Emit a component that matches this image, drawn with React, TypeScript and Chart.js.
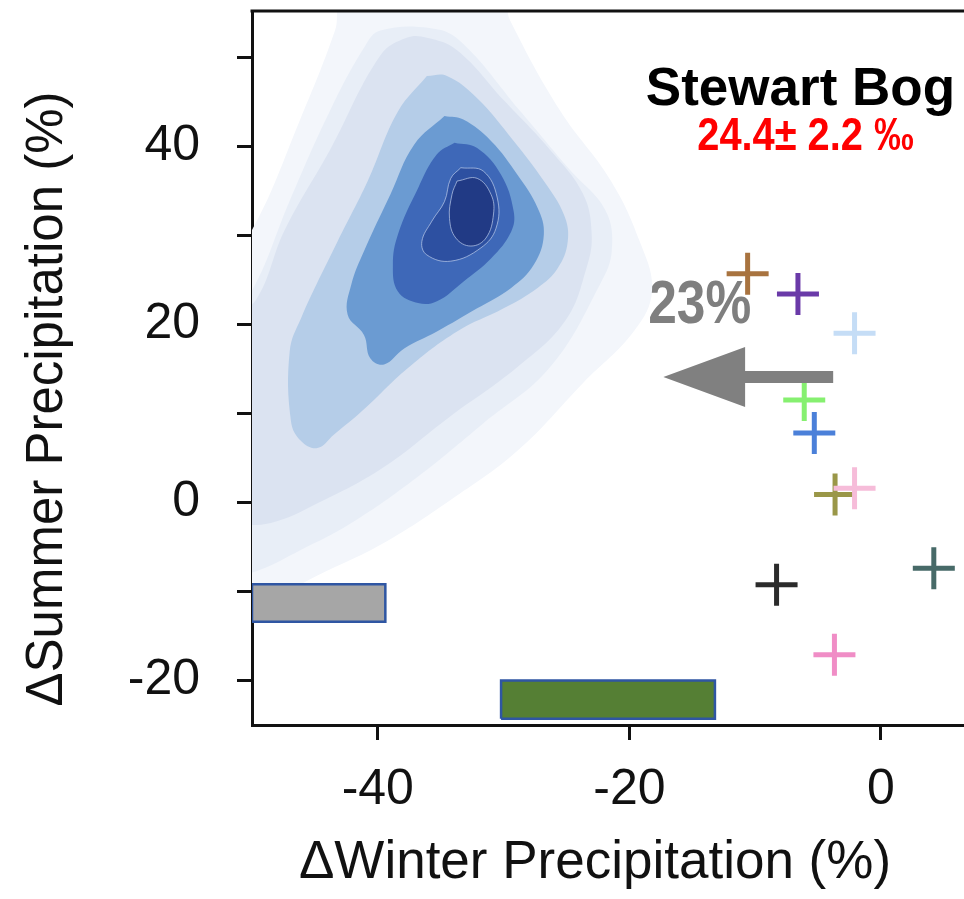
import React, { useEffect, useRef } from "react";
import { Chart, registerables } from "chart.js";

Chart.register(...registerables);

// ---- axes ----
const X_MIN = -50;
const X_MAX = 6.6;
const Y_MIN = -25;
const Y_MAX = 55.2;
const X_STEP = 20;
const Y_STEP = 10;
const Y_LABEL_EVERY = 20;
const X_TITLE = "\u0394Winter Precipitation (%)";
const Y_TITLE = "\u0394Summer Precipitation (%)";

// ---- model crosses ----
const crossX = [-10.6, -6.6, -2.1, -6.1, -5.3, -3.65, -2.1, 4.2, -8.3, -3.7];
const crossY = [25.7, 23.4, 19.0, 11.5, 7.8, 0.9, 1.6, -7.4, -9.25, -17.1];
const crossColors = [
  "#a8733f", "#6a3aa8", "#c5ddf6", "#86f070", "#4b80d9",
  "#9a9748", "#f6bcd9", "#476a68", "#2b2b2b", "#f08dc6",
];

// ---- boxes (x range, y range) ----
const grayBoxX = [-50, -39.4];
const grayBoxY = [-13.4, -9.2];
const greenBoxX = [-30.2, -13.2];
const greenBoxY = [-24.3, -20.0];

// ---- arrow (tail, head base, tip at a fixed y) ----
const arrowX = [-3.8, -10.8, -17.3];
const arrowY = 14.1;

// ---- annotations ----
const siteName = "Stewart Bog";
const siteValue = "24.4\u00b1 2.2 \u2030";
const changeLabel = "23%";
const siteNamePos = [-6.4, 44.6];
const siteValuePos = [-6.0, 39.6];
const changeLabelPos = [-18.5, 20.1];

// ---- density contours, outer to inner ----
const c1X = [-52, -48.6, -44.8, -39.6, -34.3, -28.9, -23.7, -19.6, -18.2, -19.2, -21.5, -25.5, -29.5, -30.3, -42.6, -43.4, -46.2, -50.0, -52];
const c1Y = [-13, -11.0, -8.2, -4.6, 0.2, 5.8, 13.4, 19.3, 23.8, 29.4, 36.2, 44.0, 54.2, 57.5, 57.5, 53.0, 42.9, 30.6, 28];
const c2X = [-52, -49.4, -46.2, -42.2, -36.9, -31.6, -26.3, -22.3, -21.4, -21.9, -24.7, -28.7, -33.5, -35.9, -39.8, -41.0, -43.8, -47.0, -50.0, -52];
const c2Y = [-8.5, -7.6, -5.4, -2.4, 2.8, 8.9, 15.2, 24.6, 28.3, 32.8, 37.3, 44.0, 51.9, 53.3, 53.0, 51.3, 44.0, 33.9, 23.8, 21];
const c3X = [-52, -48.5, -44.8, -39.6, -34.3, -28.9, -25.1, -23.4, -23.0, -23.7, -26.3, -30.0, -33.7, -36.1, -37.7, -39.8, -43.8, -47.4, -49.7, -52];
const c3Y = [-2.5, -2.3, -0.1, 3.9, 9.6, 15.2, 20.4, 26.4, 30.2, 34.7, 39.6, 45.2, 50.8, 52.2, 52.2, 50.2, 39.6, 30.6, 22.7, 20.4];
const c4X = [-36.1, -34.5, -32.1, -29.2, -26.8, -25.2, -24.9, -25.7, -27.3, -30.0, -33.7, -37.6, -41.3, -43.5, -44.8, -46.1, -46.9, -47.0, -46.1, -43.2, -40.8, -38.4];
const c4Y = [47.9, 47.9, 45.4, 40.6, 36.1, 32.3, 29.3, 26.3, 24.1, 21.8, 19.2, 15.1, 10.2, 7.6, 6.1, 6.9, 9.1, 17.0, 20.7, 29.3, 36.1, 43.9];
const c5X = [-34.7, -33.2, -31.0, -28.9, -27.3, -26.8, -27.6, -29.4, -32.1, -35.3, -37.9, -39.5, -40.6, -41.1, -42.4, -42.1, -41.1, -39.0, -37.1];
const c5Y = [43.4, 43.0, 40.6, 36.8, 33.1, 30.1, 26.7, 24.1, 21.8, 19.2, 17.3, 15.5, 16.2, 18.8, 21.1, 24.5, 28.2, 34.6, 40.2];
const c6X = [-33.9, -32.1, -30.2, -29.2, -29.4, -31.0, -33.2, -35.3, -36.8, -38.4, -38.8, -38.4, -36.8, -35.3];
const c6Y = [40.4, 39.8, 36.8, 32.7, 30.4, 27.4, 24.8, 22.6, 22.4, 23.7, 26.7, 30.1, 35.3, 39.1];
const c7X = [-33.4, -31.6, -30.5, -30.6, -31.8, -34.2, -36.1, -36.5, -35.7, -34.7, -34.2];
const c7Y = [37.6, 37.2, 34.2, 30.8, 28.6, 27.1, 27.8, 29.3, 31.6, 33.8, 36.4];
const c8X = [-33.7, -32.1, -31.0, -30.8, -31.4, -32.6, -33.8, -34.3, -34.1];
const c8Y = [36.1, 36.4, 34.6, 32.4, 29.7, 28.8, 29.7, 31.9, 34.6];

const contourXs = [c1X, c2X, c3X, c4X, c5X, c6X, c7X, c8X];
const contourYs = [c1Y, c2Y, c3Y, c4Y, c5Y, c6Y, c7Y, c8Y];
const contourColors = ["#f3f6fb", "#e8eef7", "#dbe3f1", "#b5cde8", "#6b9bd2", "#3e68b8", "#2d50a1", "#213a85"];

const FONT = "'Liberation Sans', Arial, Helvetica, sans-serif";

function loop(xs: number[], ys: number[]) {
  const pts = xs.map((x, i) => ({ x, y: ys[i] }));
  pts.push({ x: xs[0], y: ys[0] });
  return pts;
}

function boxPts(bx: number[], by: number[]) {
  return loop([bx[0], bx[1], bx[1], bx[0]], [by[0], by[0], by[1], by[1]]);
}

const overlayPlugin = {
  id: "overlay",
  beforeDatasetsDraw(chart: any) {
    const { ctx, scales } = chart;
    const xs = scales.x;
    const ys = scales.y;
    ctx.save();
    ctx.fillStyle = "#000";
    ctx.font = `bold 53px ${FONT}`;
    ctx.textAlign = "center";
    ctx.textBaseline = "alphabetic";
    ctx.fillText(siteName, xs.getPixelForValue(siteNamePos[0]), ys.getPixelForValue(siteNamePos[1]));
    ctx.save();
    ctx.translate(xs.getPixelForValue(siteValuePos[0]), ys.getPixelForValue(siteValuePos[1]));
    ctx.scale(0.865, 1);
    ctx.fillStyle = "#ff0000";
    ctx.font = `bold 46px ${FONT}`;
    ctx.fillText(siteValue, 0, 0);
    ctx.restore();
    ctx.save();
    ctx.translate(xs.getPixelForValue(changeLabelPos[0]), ys.getPixelForValue(changeLabelPos[1]));
    ctx.scale(0.83, 1);
    ctx.fillStyle = "#7f7f7f";
    ctx.font = `bold 62px ${FONT}`;
    ctx.textAlign = "left";
    ctx.fillText(changeLabel, 0, 0);
    ctx.restore();
    ctx.restore();
  },
  afterDatasetsDraw(chart: any) {
    const { ctx, scales } = chart;
    const xs = scales.x;
    const ys = scales.y;
    const tail = xs.getPixelForValue(arrowX[0]);
    const base = xs.getPixelForValue(arrowX[1]);
    const tip = xs.getPixelForValue(arrowX[2]);
    const cy = ys.getPixelForValue(arrowY);
    const sh = 6;
    const hh = 30;
    ctx.save();
    ctx.fillStyle = "#808080";
    ctx.beginPath();
    ctx.moveTo(tail, cy - sh);
    ctx.lineTo(base, cy - sh);
    ctx.lineTo(base, cy - hh);
    ctx.lineTo(tip, cy);
    ctx.lineTo(base, cy + hh);
    ctx.lineTo(base, cy + sh);
    ctx.lineTo(tail, cy + sh);
    ctx.closePath();
    ctx.fill();
    ctx.restore();
  },
  afterDraw(chart: any) {
    const { ctx, chartArea } = chart;
    ctx.save();
    ctx.strokeStyle = "#111";
    ctx.lineWidth = 3;
    ctx.beginPath();
    ctx.moveTo(chartArea.left - 1.5, chartArea.top);
    ctx.lineTo(chartArea.right, chartArea.top);
    ctx.stroke();
    ctx.fillStyle = "#111";
    ctx.textAlign = "center";
    ctx.textBaseline = "alphabetic";
    ctx.font = `53px ${FONT}`;
    ctx.fillText(X_TITLE, 595, 878);
    ctx.font = `51px ${FONT}`;
    ctx.translate(62, 399);
    ctx.rotate(-Math.PI / 2);
    ctx.fillText(Y_TITLE, 0, 0);
    ctx.restore();
  },
};

export default function App() {
  const ref = useRef<HTMLCanvasElement | null>(null);
  useEffect(() => {
    document.body.style.margin = "0";
    document.body.style.overflow = "hidden";
    const canvas = ref.current;
    if (!canvas) return;

    const contourSets = contourXs.map((xs, i) => ({
      type: "scatter" as const,
      data: loop(xs, contourYs[i]),
      showLine: true,
      fill: "shape",
      backgroundColor: contourColors[i],
      borderColor: i >= 6 ? "rgba(190,205,235,0.7)" : contourColors[i],
      borderWidth: i >= 6 ? 1 : 0,
      tension: 0.4,
      pointRadius: 0,
      order: 30 - i,
    }));

    const boxSets = [
      { pts: boxPts(grayBoxX, grayBoxY), color: "#a6a6a6" },
      { pts: boxPts(greenBoxX, greenBoxY), color: "#557f34" },
    ].map((b) => ({
      type: "scatter" as const,
      data: b.pts,
      showLine: true,
      fill: "shape",
      backgroundColor: b.color,
      borderColor: "#2f56a3",
      borderWidth: 2.5,
      tension: 0,
      pointRadius: 0,
      order: 5,
    }));

    const crossSet = {
      type: "scatter" as const,
      data: crossX.map((x, i) => ({ x, y: crossY[i] })),
      pointStyle: "cross",
      pointRadius: 21,
      pointBorderWidth: 5,
      pointBorderColor: crossColors,
      pointBackgroundColor: crossColors,
      showLine: false,
      order: 0,
    };

    const chart = new Chart(canvas, {
      type: "scatter",
      data: { datasets: [crossSet, ...boxSets, ...contourSets] as any },
      plugins: [overlayPlugin],
      options: {
        responsive: false,
        maintainAspectRatio: false,
        devicePixelRatio: 1,
        animation: false,
        events: [],
        layout: { autoPadding: false, padding: { top: 11, right: 0, bottom: 0, left: 0 } },
        plugins: { legend: { display: false }, tooltip: { enabled: false } },
        scales: {
          x: {
            type: "linear",
            position: "bottom",
            min: X_MIN,
            max: X_MAX,
            afterFit(scale: any) {
              scale.height = 174;
              scale.paddingLeft = 0;
              scale.paddingRight = 0;
            },
            ticks: {
              stepSize: X_STEP,
              includeBounds: false,
              padding: 20,
              color: "#111",
              font: { family: FONT, size: 50 },
              maxRotation: 0,
              autoSkip: false,
              callback: (v: any) => `${v}`,
            },
            grid: { drawOnChartArea: false, drawTicks: true, tickLength: 15, tickWidth: 3, tickColor: "#111" },
            border: { display: true, color: "#111", width: 3 },
          },
          y: {
            type: "linear",
            min: Y_MIN,
            max: Y_MAX,
            afterFit(scale: any) {
              scale.width = 252;
              scale.paddingTop = 0;
              scale.paddingBottom = 0;
            },
            ticks: {
              stepSize: Y_STEP,
              includeBounds: false,
              padding: 37,
              color: "#111",
              font: { family: FONT, size: 50 },
              autoSkip: false,
              callback: (v: any) => (Number(v) % Y_LABEL_EVERY === 0 ? `${v}` : ""),
            },
            grid: { drawOnChartArea: false, drawTicks: true, tickLength: 15, tickWidth: 3, tickColor: "#111" },
            border: { display: true, color: "#111", width: 3 },
          },
        },
      } as any,
    });
    return () => chart.destroy();
  }, []);

  return <canvas ref={ref} width={964} height={899} style={{ display: "block" }} />;
}
